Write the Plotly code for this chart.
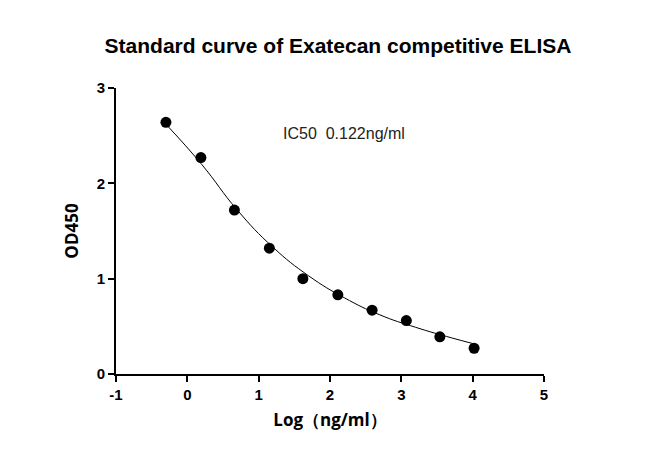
import plotly.graph_objects as go

log_conc = [-0.30, 0.19, 0.66, 1.15, 1.62, 2.11, 2.59, 3.07, 3.54, 4.02]
od450 = [2.64, 2.27, 1.72, 1.32, 1.00, 0.83, 0.67, 0.56, 0.39, 0.27]

fit_x = [-0.3, 0.2, 0.7, 1.2, 1.7, 2.2, 2.7, 3.2, 3.7, 4.0]
fit_y = [2.62, 2.20, 1.72, 1.33, 1.03, 0.80, 0.62, 0.49, 0.38, 0.32]

x_ticks = [-1, 0, 1, 2, 3, 4, 5]
y_ticks = [0, 1, 2, 3]

fig = go.Figure()
fig.add_trace(go.Scatter(x=fit_x, y=fit_y, mode="lines",
                         line=dict(color="black", width=1, shape="spline", smoothing=1.3)))
fig.add_trace(go.Scatter(x=log_conc, y=od450, mode="markers", marker=dict(color="black", size=11)))

fig.add_annotation(x=2.2, y=2.52, text="IC50  0.122ng/ml", showarrow=False,
                   font=dict(size=16, color="#222", family="Arial"))

axis_style = dict(showline=True, linecolor="black", linewidth=2, ticks="outside", tickwidth=2,
                  ticklen=6, tickcolor="black", showgrid=False, zeroline=False,
                  tickfont=dict(size=15, color="black", family="Arial"))

fig.update_layout(
    width=660, height=471, plot_bgcolor="white", paper_bgcolor="white", showlegend=False,
    margin=dict(l=108, r=124, t=80, b=105),
    title=dict(text="<b>Standard curve of Exatecan competitive ELISA</b>", x=0.5, y=0.935,
               xanchor="center", font=dict(size=21, color="black", family="Arial")),
    xaxis=dict(range=[-1, 5], tickvals=x_ticks, ticktext=[f"<b>{v}</b>" for v in x_ticks],
               title=dict(text="<b>Log（ng/ml）</b>", font=dict(size=17, color="black"), standoff=12),
               **axis_style),
    yaxis=dict(range=[0, 3], tickvals=y_ticks, ticktext=[f"<b>{v}</b>" for v in y_ticks],
               title=dict(text="<b>OD450</b>", font=dict(size=17, color="black"), standoff=14),
               **axis_style),
)
fig.write_html("out.html")
